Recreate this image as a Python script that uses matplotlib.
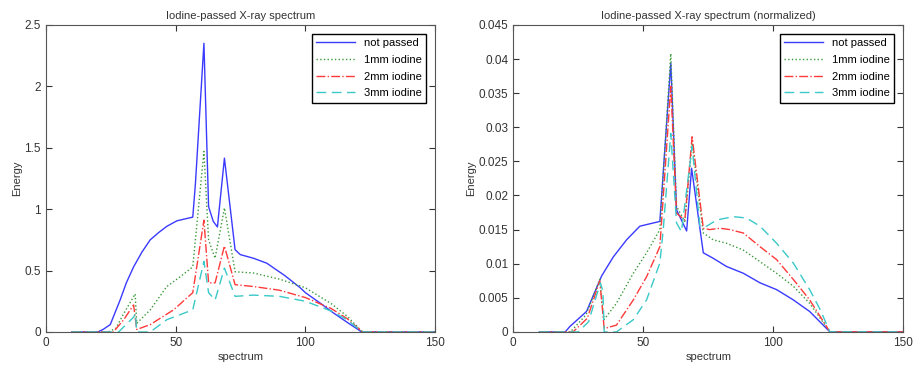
import matplotlib
matplotlib.use('Agg')
import matplotlib.pyplot as plt

plt.rcParams['font.family'] = ['Liberation Sans', 'DejaVu Sans']
plt.rcParams['font.size'] = 8

# ---- raw spectrum (left panel) ----
raw_x_np = [10, 20, 22, 24.8, 28.6, 31, 33.8, 37, 40.2, 43.5, 46.6, 50.5, 56.6, 57.6, 60.9, 62.7, 64.5,
            66.1, 68.8, 72.9, 74.9, 80, 85.1, 92, 98, 100, 105.7, 110.8, 116, 121.7, 150]
raw_y_np = [0, 0, 0.02, 0.06, 0.26, 0.4, 0.53, 0.65, 0.75, 0.81, 0.86, 0.905, 0.935, 1.2, 2.35, 1.02, 0.9,
            0.855, 1.415, 0.67, 0.63, 0.6, 0.56, 0.46, 0.36, 0.32, 0.235, 0.155, 0.08, 0, 0]

raw_x_1mm = [10, 24, 27, 30, 34.4, 35, 40.2, 46.6, 51.8, 56.6, 60.9, 62.7, 65.2, 68.8, 72.9, 80,
             90, 100, 110, 116, 122, 150]
raw_y_1mm = [0, 0, 0.03, 0.15, 0.31, 0.07, 0.18, 0.37, 0.45, 0.53, 1.47, 0.75, 0.60, 1.01, 0.49, 0.48,
             0.43, 0.36, 0.23, 0.13, 0, 0]

raw_x_2mm = [10, 26, 30, 33.8, 35, 40.2, 49.2, 56.6, 60.9, 62.7, 65.2, 68.8, 72.9, 80,
             90, 100, 110, 116, 122, 150]
raw_y_2mm = [0, 0, 0.1, 0.22, 0.02, 0.06, 0.18, 0.32, 0.91, 0.40, 0.40, 0.70, 0.385, 0.37,
             0.34, 0.28, 0.19, 0.11, 0, 0]

raw_x_3mm = [10, 28, 33.8, 34.5, 35, 40.2, 46.6, 56.6, 60.9, 62.7, 65.2, 68.8, 72.9, 80,
             90, 100, 110, 116, 122, 150]
raw_y_3mm = [0, 0, 0.12, 0.15, 0, 0, 0.10, 0.18, 0.575, 0.32, 0.26, 0.52, 0.29, 0.30,
             0.29, 0.25, 0.17, 0.10, 0, 0]

# ---- normalized spectrum (right panel) ----
norm_x_np = [10, 20, 21.8, 28.2, 34, 38.5, 43.6, 48.7, 56.4, 60.6, 62.8, 66.7, 68.6, 73.1, 76.9,
             82, 88.5, 94.9, 101.3, 107.7, 114, 121.8, 150]
norm_y_np = [0, 0, 0.0008, 0.003, 0.0082, 0.011, 0.0135, 0.0155, 0.0162, 0.0394, 0.0179, 0.0148,
             0.024, 0.0116, 0.0108, 0.0096, 0.0086, 0.0072, 0.0062, 0.0047, 0.003, 0, 0]

norm_x_1mm = [10, 22, 28, 33.3, 34.9, 39.7, 46.2, 51.3, 56.4, 60.6, 62.8, 66, 68.8, 73.1, 76.9,
              82, 88.5, 94.9, 101.3, 107.7, 114, 121.8, 150]
norm_y_1mm = [0, 0, 0.0025, 0.0077, 0.0018, 0.0042, 0.0086, 0.0116, 0.015, 0.0408, 0.0184, 0.0162,
              0.0277, 0.0145, 0.0135, 0.013, 0.012, 0.0103, 0.0086, 0.0067, 0.0042, 0, 0]

norm_x_2mm = [10, 23, 28.5, 33.3, 35, 39.7, 46.2, 51.3, 56.4, 60.6, 62.8, 66, 68.8, 73.1, 75.5,
              79.5, 83.3, 88.5, 94.9, 101.3, 107.7, 114, 121.8, 150]
norm_y_2mm = [0, 0, 0.002, 0.0075, 0.0005, 0.001, 0.0047, 0.0081, 0.0125, 0.036, 0.0174, 0.0164,
              0.0286, 0.0152, 0.015, 0.0152, 0.015, 0.0145, 0.0125, 0.0106, 0.0077, 0.0047, 0, 0]

norm_x_3mm = [10, 25, 29, 33.5, 34.5, 35, 39.7, 46.2, 51.3, 56.4, 57.7, 60.6, 62.8, 64.7, 68.8, 71.8,
              74.4, 78.2, 84.6, 89.7, 94.9, 101.3, 107.7, 114, 118, 121.8, 150]
norm_y_3mm = [0, 0, 0.0015, 0.0072, 0.006, 0, 0, 0.0018, 0.0047, 0.0101, 0.015, 0.0291, 0.016, 0.0147,
              0.0272, 0.0155, 0.0155, 0.0164, 0.0169, 0.0167, 0.0155, 0.013, 0.0101, 0.0062, 0.0033, 0, 0]

labels = ['not passed', '1mm iodine', '2mm iodine', '3mm iodine']
colors = ['#3a3aff', '#3a9a3a', '#ff3a3a', '#3ac8c8']
styles = ['-', ':', '-.', (0, (7, 4))]

fig = plt.figure(figsize=(9.18, 3.66), dpi=100)
ax1 = fig.add_axes([0.050, 0.093, 0.424, 0.839])
ax2 = fig.add_axes([0.559, 0.093, 0.425, 0.839])

left_series = [(raw_x_np, raw_y_np), (raw_x_1mm, raw_y_1mm), (raw_x_2mm, raw_y_2mm), (raw_x_3mm, raw_y_3mm)]
right_series = [(norm_x_np, norm_y_np), (norm_x_1mm, norm_y_1mm), (norm_x_2mm, norm_y_2mm), (norm_x_3mm, norm_y_3mm)]

for ax, series, title, ymax, yticks in [
        (ax1, left_series, 'Iodine-passed X-ray spectrum', 2.5, [0, 0.5, 1, 1.5, 2, 2.5]),
        (ax2, right_series, 'Iodine-passed X-ray spectrum (normalized)', 0.045,
         [0, 0.005, 0.01, 0.015, 0.02, 0.025, 0.03, 0.035, 0.04, 0.045])]:
    for (xs, ys), lab, c, ls in zip(series, labels, colors, styles):
        ax.plot(xs, ys, color=c, linestyle=ls, linewidth=1.0, label=lab)
    ax.set_xlim(0, 150)
    ax.set_ylim(0, ymax)
    ax.set_xticks([0, 50, 100, 150])
    ax.set_xticklabels(['0', '50', '100', '150'])
    ax.set_yticks(yticks)
    ax.set_yticklabels(['%g' % t for t in yticks])
    ax.tick_params(direction='in', top=True, right=True, length=4, colors='#333333', labelsize=8.5)
    for sp in ax.spines.values():
        sp.set_color('#555555')
    ax.set_title(title, fontsize=8, color='#333333', pad=4)
    ax.set_xlabel('spectrum', fontsize=8, color='#333333', labelpad=2)
    ax.set_ylabel('Energy', fontsize=8, color='#333333', labelpad=2)
    leg = ax.legend(loc='upper right', fancybox=False, edgecolor='black', framealpha=1,
                    fontsize=8, handlelength=3.5, borderaxespad=0.8, labelspacing=0.6)
    leg.get_frame().set_linewidth(1.0)

fig.savefig('out.png', dpi=100)
